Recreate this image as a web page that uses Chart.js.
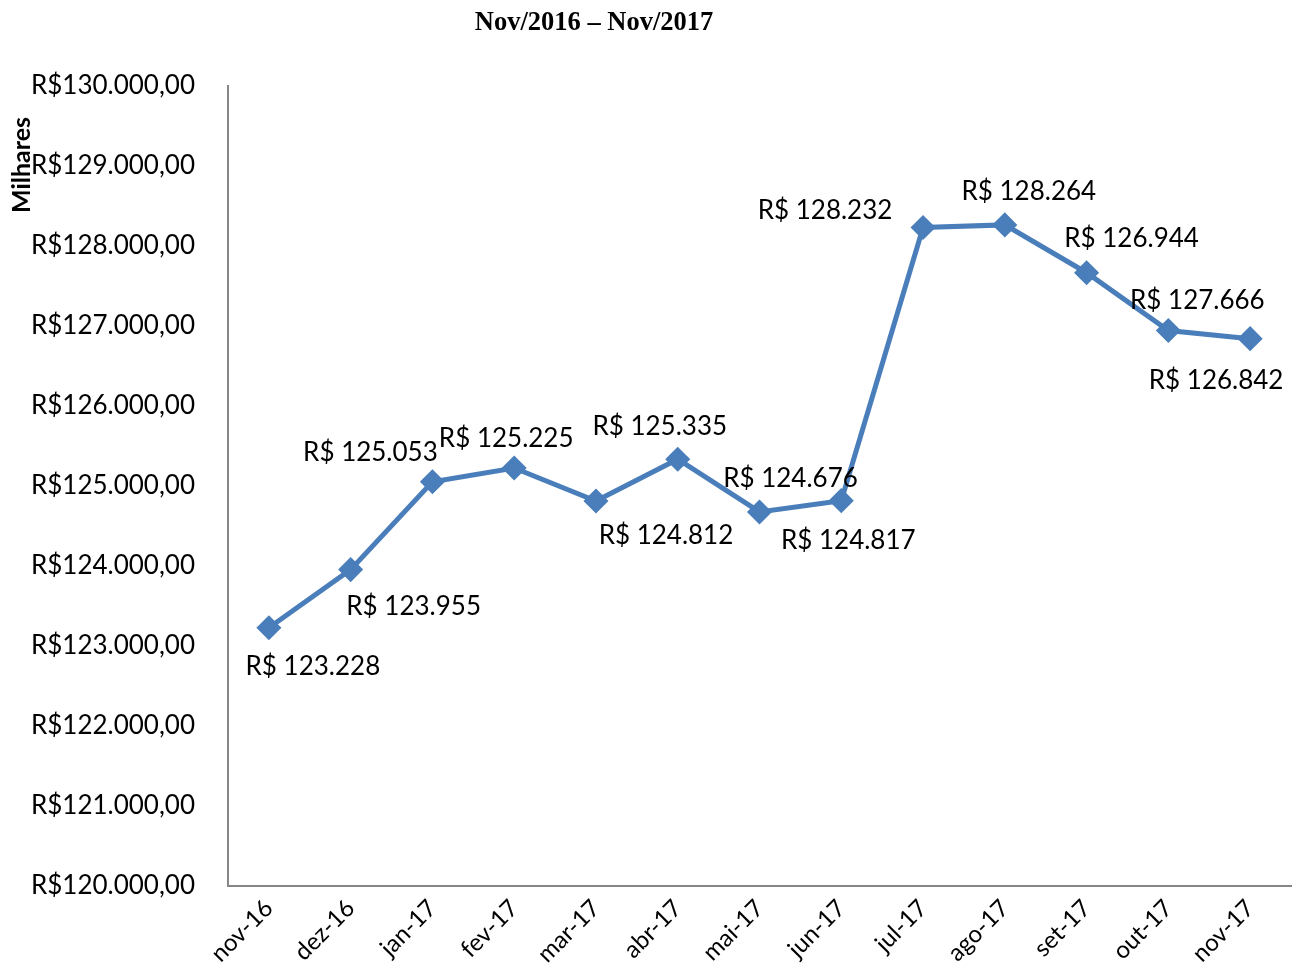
<!DOCTYPE html>
<html>
<head>
<meta charset="utf-8">
<script src="https://cdn.jsdelivr.net/npm/chart.js@4.4.0/dist/chart.umd.min.js"></script>
<style>
html,body{margin:0;padding:0;background:#fff;}
canvas{display:block;}
</style>
</head>
<body>
<canvas id="c" width="1298" height="976"></canvas>
<script>
// ---- data ----
const categories = ["nov-16","dez-16","jan-17","fev-17","mar-17","abr-17","mai-17","jun-17","jul-17","ago-17","set-17","out-17","nov-17"];
const values = [123228, 123955, 125053, 125225, 124812, 125335, 124676, 124817, 128232, 128264, 127666, 126944, 126842];
const pointLabels = ["R$ 123.228","R$ 123.955","R$ 125.053","R$ 125.225","R$ 124.812","R$ 125.335","R$ 124.676","R$ 124.817","R$ 128.232","R$ 128.264","R$ 126.944","R$ 127.666","R$ 126.842"];
const yTickMin = 120000, yTickMax = 130000, yTickStep = 1000;
const titleText = "Nov/2016 \u2013 Nov/2017";
const yAxisTitle = "Milhares";

// ---- layout of point labels (offsets from point, px) ----
const labelOffsets = [[44,39],[63,37],[-62,-29],[-8,-29],[70,35],[-18,-33],[31,-33],[7,40],[-98,-17],[24,-33],[45,-34],[29,-30],[-34,42]];

const FONT = "Lato, 'Open Sans', sans-serif";

function fmtTick(v){
  const s = Math.round(v).toString().replace(/\B(?=(\d{3})+(?!\d))/g, ".");
  return "R$" + s + ",00";
}

const decor = {
  id: "decor",
  afterDatasetsDraw(chart){
    const ctx = chart.ctx;
    const meta = chart.getDatasetMeta(0);
    ctx.save();
    ctx.fillStyle = "#000";
    ctx.font = "26px " + FONT;
    ctx.textAlign = "center";
    ctx.textBaseline = "middle";
    meta.data.forEach((pt, i) => {
      const o = labelOffsets[i];
      ctx.fillText(pointLabels[i], pt.x + o[0], pt.y + o[1]);
    });
    // title
    ctx.font = "bold 26.5px 'Liberation Serif', 'DejaVu Serif', serif";
    ctx.fillText(titleText, 594, 23);
    // y axis title
    ctx.translate(22, 165);
    ctx.rotate(-Math.PI/2);
    ctx.font = "bold 25px " + FONT;
    ctx.fillText(yAxisTitle, 0, 0);
    ctx.restore();
  }
};

new Chart(document.getElementById("c"), {
  type: "line",
  data: {
    labels: categories,
    datasets: [{
      data: values,
      borderColor: "#4a7ebb",
      backgroundColor: "#4a7ebb",
      borderWidth: 5,
      pointStyle: "rectRot",
      pointRadius: 9,
      pointHoverRadius: 9,
      tension: 0,
      fill: false
    }]
  },
  options: {
    responsive: false,
    animation: false,
    events: [],
    layout: { autoPadding: false, padding: { top: 86, right: 7, left: 0, bottom: 0 } },
    plugins: { legend: { display: false }, title: { display: false }, tooltip: { enabled: false } },
    scales: {
      x: {
        offset: true,
        grid: { display: false, drawTicks: false },
        border: { display: true, color: "#868686", width: 2 },
        ticks: { color: "#000", font: { family: FONT, size: 24 }, minRotation: 45, maxRotation: 45, padding: 8 },
        afterFit(s){ s.height = 90; s.paddingRight = 0; s.paddingLeft = 0; }
      },
      y: {
        min: yTickMin, max: yTickMax,
        grid: { display: false, drawTicks: false },
        border: { display: true, color: "#868686", width: 2 },
        ticks: { stepSize: yTickStep, color: "#000", font: { family: FONT, size: 26 }, padding: 33, callback: v => fmtTick(v) },
        afterFit(s){ s.width = 228; }
      }
    }
  },
  plugins: [decor]
});
</script>
</body>
</html>
